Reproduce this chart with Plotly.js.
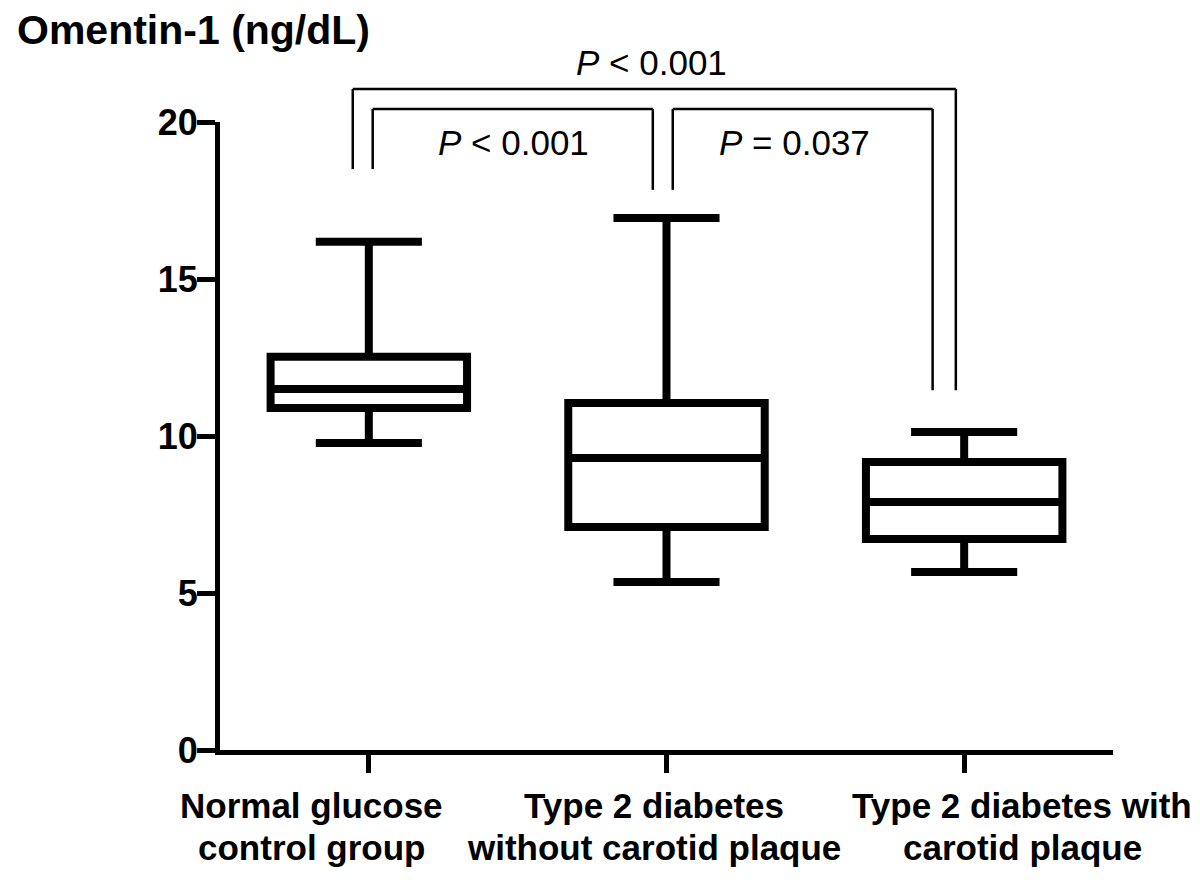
<!DOCTYPE html>
<html>
<head>
<meta charset="utf-8">
<script src="https://cdn.plot.ly/plotly-3.0.1.min.js"></script>
<style>
  html, body { margin: 0; padding: 0; background: #ffffff; }
  #chart { width: 1200px; height: 882px; }
</style>
</head>
<body>
<div id="chart"></div>
<script>
// ---- data ----
var groups = ["Normal glucose control group", "Type 2 diabetes without carotid plaque", "Type 2 diabetes with carotid plaque"];
var groupLabelLine1 = ["Normal glucose", "Type 2 diabetes", "Type 2 diabetes with"];
var groupLabelLine2 = ["control group", "without carotid plaque", "carotid plaque"];
var lowerWhisker = [9.78, 5.35, 5.67];
var q1Values = [10.89, 7.10, 6.72];
var medianValues = [11.50, 9.30, 7.90];
var q3Values = [12.52, 11.05, 9.17];
var upperWhisker = [16.19, 16.94, 10.13];
var yTicks = [0, 5, 10, 15, 20];

// comparisons: label text for each bracket
var comparisonLabels = ["<i>P</i> < 0.001", "<i>P</i> = 0.037", "<i>P</i> < 0.001"];

var FONT = "Liberation Sans, Arial, Helvetica, sans-serif";

var trace = {
  type: "box",
  x: groups,
  q1: q1Values,
  median: medianValues,
  q3: q3Values,
  lowerfence: lowerWhisker,
  upperfence: upperWhisker,
  boxpoints: false,
  width: 0.66,
  whiskerwidth: 0.54,
  fillcolor: "#ffffff",
  line: { color: "#000000", width: 8 },
  hoverinfo: "skip",
  showlegend: false
};

var shapes = [];
var annotations = [];
function line(x0, y0, x1, y1) {
  shapes.push({ type: "line", xref: "x", yref: "paper", x0: x0, y0: y0, x1: x1, y1: y1,
    line: { color: "#000000", width: 2.5 } });
}
function bracket(xa, xb, top, legA, legB) {
  line(xa, top, xb, top);
  line(xa, top, xa, legA);
  line(xb, top, xb, legB);
}
var innerTop = 1.0207, outerTop = 1.0525;
var leftLeg = 0.925, midLeg = 0.892, rightLeg = 0.573;
bracket(0.013, 0.954, innerTop, leftLeg, midLeg);
bracket(1.021, 1.894, innerTop, midLeg, rightLeg);
bracket(-0.054, 1.972, outerTop, leftLeg, rightLeg);

function pLabel(x, y, text) {
  annotations.push({ xref: "x", yref: "paper", x: x, y: y, text: text, showarrow: false,
    font: { family: FONT, size: 35, color: "#000000" }, xanchor: "center", yanchor: "middle" });
}
pLabel(0.487, 0.9666, comparisonLabels[0]);
pLabel(1.431, 0.9666, comparisonLabels[1]);
pLabel(0.951, 1.0955, comparisonLabels[2]);

// category labels (two lines each, offset like the reference)
var labelShift = [-57, -13, 58];
groups.forEach(function (g, i) {
  [[groupLabelLine1[i], -0.0876], [groupLabelLine2[i], -0.156]].forEach(function (pair) {
    annotations.push({ xref: "x", yref: "paper", x: g, y: pair[1], xshift: labelShift[i],
      text: "<b>" + pair[0] + "</b>", showarrow: false,
      font: { family: FONT, size: 35, color: "#000000" }, xanchor: "center", yanchor: "middle" });
  });
});

var layout = {
  width: 1200,
  height: 882,
  paper_bgcolor: "#ffffff",
  plot_bgcolor: "#ffffff",
  margin: { l: 220, r: 87, t: 122, b: 132 },
  title: {
    text: "<b>Omentin-1 (ng/dL)</b>",
    font: { family: FONT, size: 41, color: "#000000" },
    x: 17 / 1200, xanchor: "left", xref: "container",
    y: 1 - 30 / 882, yanchor: "middle", yref: "container"
  },
  xaxis: {
    type: "category",
    range: [-0.5, 2.5],
    tickmode: "array",
    tickvals: groups,
    showticklabels: false,
    ticks: "outside",
    ticklen: 18,
    tickwidth: 5,
    tickcolor: "#000000",
    showline: true,
    linecolor: "#000000",
    linewidth: 5,
    showgrid: false,
    zeroline: false,
    fixedrange: true
  },
  yaxis: {
    range: [0, 20],
    tickmode: "array",
    tickvals: yTicks,
    ticktext: yTicks.map(function (v) { return "<b>" + v + "</b>"; }),
    ticks: "outside",
    ticklen: 18,
    tickwidth: 5,
    tickcolor: "#000000",
    ticklabelstandoff: -8,
    showline: true,
    linecolor: "#000000",
    linewidth: 5,
    showgrid: false,
    zeroline: false,
    tickfont: { family: FONT, size: 36, color: "#000000" },
    fixedrange: true
  },
  shapes: shapes,
  annotations: annotations,
  showlegend: false
};

Plotly.newPlot("chart", [trace], layout, { staticPlot: true, displayModeBar: false });
</script>
</body>
</html>
